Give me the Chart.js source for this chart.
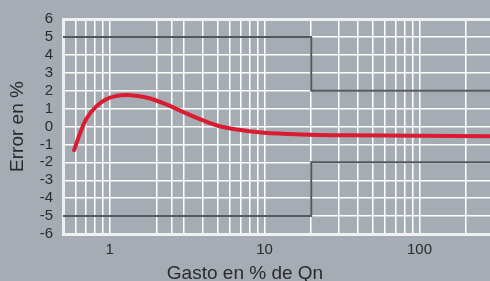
<!DOCTYPE html>
<html>
<head>
<meta charset="utf-8">
<script src="https://cdn.jsdelivr.net/npm/chart.js@4/dist/chart.umd.min.js"></script>
<style>
  html, body { margin: 0; padding: 0; background: #a5acb3; }
  canvas { display: block; }
</style>
</head>
<body>
<canvas id="chart-error" width="490" height="281"></canvas>
<script>
// curva de error
const gasto = [0.59, 0.64, 0.71, 0.82, 0.95, 1.1, 1.27, 1.52, 1.85, 2.3, 2.9, 3.9, 5.2, 7.0, 9.9, 17, 36, 100, 285];
const error = [-1.32, -0.45, 0.45, 1.12, 1.52, 1.70, 1.76, 1.70, 1.55, 1.25, 0.86, 0.38, 0.0, -0.2, -0.35, -0.44, -0.49, -0.52, -0.55];

// limites de error maximo
const limiteX = [0.5, 20, 20, 285];
const limiteSup = [5, 5, 2, 2];
const limiteInf = [-5, -5, -2, -2];

// lineas de la rejilla y etiquetas
const rejillaX = [0.6, 0.7, 0.8, 0.9, 1, 2, 2.5, 3, 4, 5, 6, 7, 8, 9, 10, 20, 30, 40, 50, 60, 70, 80, 90, 100, 200];
const etiquetasX = [1, 10, 100];
const tituloX = "Gasto en % de Qn";
const tituloY = "Error en %";

const fuente = '"Liberation Sans", Arial, Helvetica, sans-serif';
const textoColor = "#2b2b2b";

const puntos = (xs, ys) => xs.map((x, i) => ({ x: x, y: ys[i] }));

const fondo = {
    id: "fondo",
    beforeDraw(chart) {
        const ctx = chart.ctx;
        ctx.save();
        ctx.fillStyle = "#a5acb3";
        ctx.fillRect(0, 0, chart.width, chart.height);
        ctx.restore();
    },
    afterDraw(chart) {
        const ctx = chart.ctx;
        ctx.save();
        ctx.font = "19px " + fuente;
        ctx.fillStyle = textoColor;
        ctx.textAlign = "center";
        ctx.textBaseline = "alphabetic";
        ctx.fillText(tituloX, chart.width / 2, 279);
        ctx.restore();
    },
};

const dataError = {
    datasets: [
        {
            label: "Limite superior",
            data: puntos(limiteX, limiteSup),
            borderColor: "#55595d",
            borderWidth: 2,
            pointRadius: 0,
            tension: 0,
        },
        {
            label: "Limite inferior",
            data: puntos(limiteX, limiteInf),
            borderColor: "#55595d",
            borderWidth: 2,
            pointRadius: 0,
            tension: 0,
        },
        {
            label: "Error",
            data: puntos(gasto, error),
            borderColor: "#d91c32",
            borderWidth: 4,
            borderCapStyle: "round",
            pointRadius: 0,
            tension: 0.4,
        },
    ],
};

const configError = {
    type: "line",
    data: dataError,
    plugins: [fondo],
    options: {
        responsive: false,
        animation: false,
        devicePixelRatio: 1,
        layout: { padding: { top: 17, right: 0, bottom: 0, left: 0 } },
        plugins: {
            legend: { display: false },
            tooltip: { enabled: false },
        },
        scales: {
            x: {
                type: "logarithmic",
                min: 0.5,
                max: 285,
                afterFit: (scale) => { scale.height = 47; },
                afterBuildTicks: (scale) => {
                    scale.ticks = rejillaX.map((v) => ({ value: v }));
                },
                grid: { color: "#ffffff", lineWidth: 1.5, drawTicks: false },
                border: { color: "#eef0f2", width: 3 },
                ticks: {
                    autoSkip: false,
                    maxRotation: 0,
                    padding: 7,
                    color: textoColor,
                    font: { family: fuente, size: 15 },
                    callback: (value) => (etiquetasX.includes(value) ? String(value) : ""),
                },
            },
            y: {
                min: -6,
                max: 6,
                afterFit: (scale) => { scale.width = 63; },
                grid: {
                    color: (c) => (c.tick.value === 6 ? "#eef0f2" : "#ffffff"),
                    lineWidth: (c) => (c.tick.value === 6 ? 3 : 1.5),
                    drawTicks: false,
                },
                border: { color: "#eef0f2", width: 3 },
                ticks: {
                    stepSize: 1,
                    autoSkip: false,
                    padding: 10,
                    color: textoColor,
                    font: { family: fuente, size: 15 },
                },
                title: {
                    display: true,
                    text: tituloY,
                    color: textoColor,
                    font: { family: fuente, size: 19 },
                    padding: { top: 6, bottom: 0 },
                },
            },
        },
    },
};

new Chart(document.getElementById("chart-error"), configError);
</script>
</body>
</html>
